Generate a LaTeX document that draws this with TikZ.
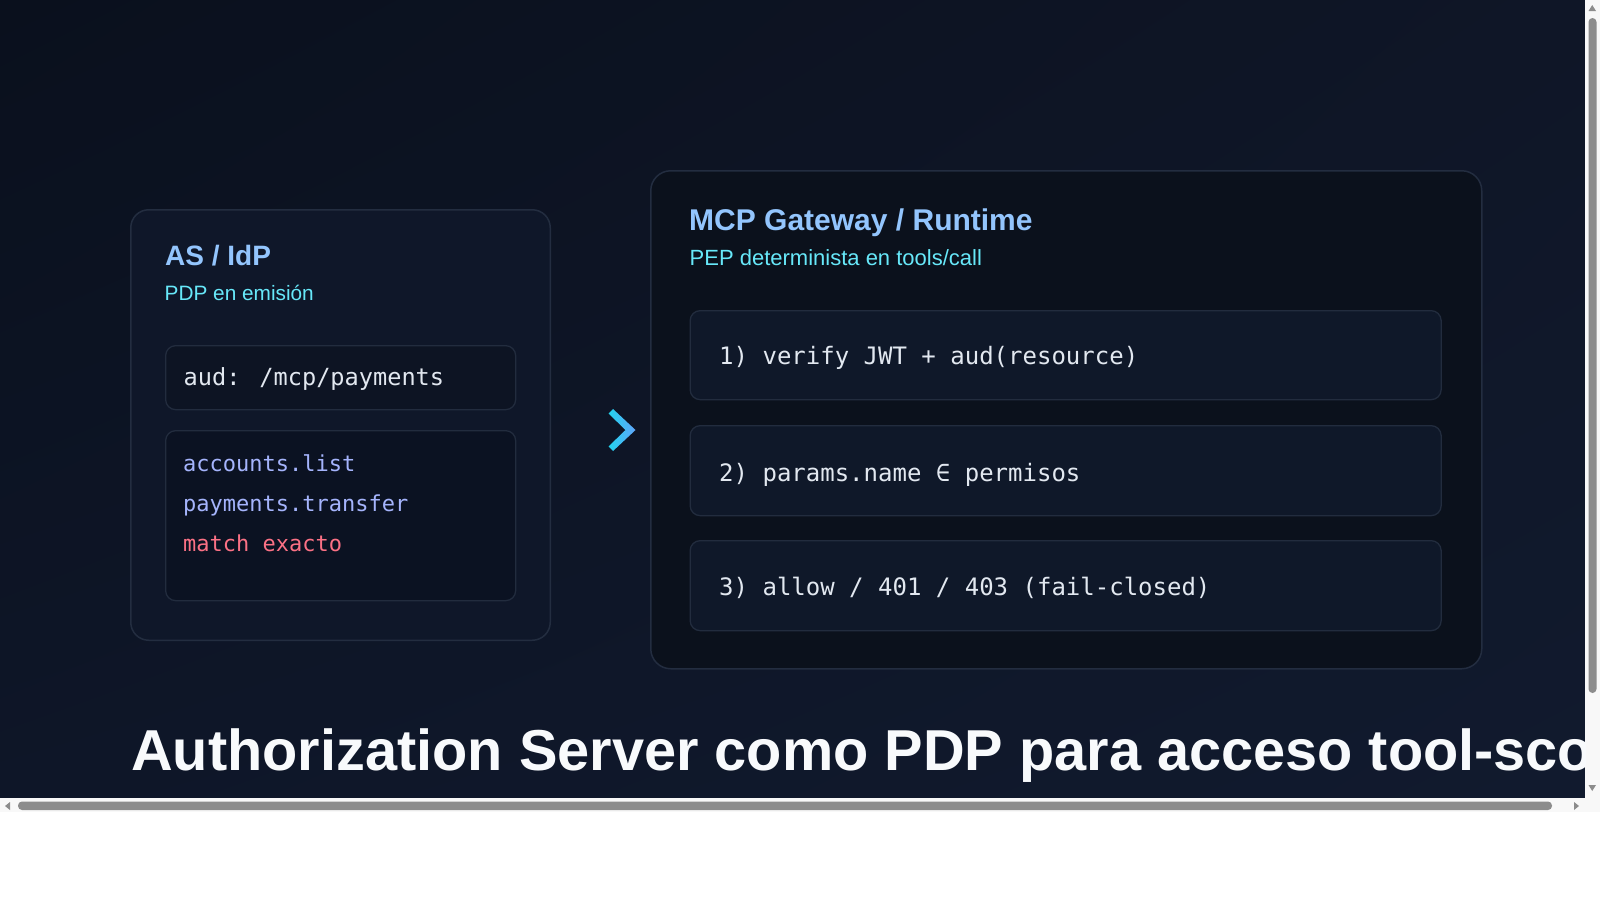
\documentclass[tikz,border=0pt]{standalone}
\usepackage{fontspec}
\usetikzlibrary{shadings}
\setmainfont{Liberation Sans}
\newfontfamily\monofont{DejaVu Sans Mono}
\definecolor{bgUL}{HTML}{0A101D}
\definecolor{bgUR}{HTML}{0F1627}
\definecolor{bgLL}{HTML}{0E1628}
\definecolor{bgLR}{HTML}{111A2E}
\definecolor{cardL}{HTML}{0F1729}
\definecolor{cardR}{HTML}{0B111C}
\definecolor{cardline}{HTML}{232D40}
\definecolor{boxline}{HTML}{222C3E}
\definecolor{audfill}{HTML}{0D1423}
\definecolor{toolfill}{HTML}{0B1222}
\definecolor{stepfill}{HTML}{0F1829}
\definecolor{headblue}{HTML}{93C5FD}
\definecolor{subcyan}{HTML}{67E8F9}
\definecolor{codewhite}{HTML}{E2E8F0}
\definecolor{toolblue}{HTML}{A5B4FC}
\definecolor{toolred}{HTML}{FB7185}
\definecolor{titlewhite}{HTML}{F8FAFC}
\definecolor{chevA}{HTML}{22D3EE}
\definecolor{chevB}{HTML}{60A5FA}
\definecolor{track}{HTML}{F8F8F8}
\definecolor{thumb}{HTML}{8C8C8C}
\begin{document}
\begin{tikzpicture}[x=1pt,y=-1pt,
  card/.style={draw=cardline, line width=1.5pt, rounded corners=18pt, anchor=north west, inner sep=0pt},
  box/.style={draw=boxline, line width=1.3pt, rounded corners=10pt, anchor=north west, inner sep=0pt},
  head/.style={anchor=base west, inner sep=0pt, text=headblue, font=\fontsize{30}{34}\selectfont\bfseries},
  sub/.style={anchor=base west, inner sep=0pt, text=subcyan, font=\fontsize{22}{26}\selectfont},
  code/.style={anchor=base west, inner sep=0pt, text=codewhite, font=\monofont\fontsize{24}{28}\selectfont},
  tool/.style={anchor=base west, inner sep=0pt, font=\monofont\fontsize{22}{26}\selectfont},
  bigtitle/.style={anchor=base west, inner sep=0pt, text=titlewhite, font=\fontsize{57.7}{64}\selectfont\bfseries},
]
\useasboundingbox (0,0) rectangle (1600,900);
% page background and browser chrome
\fill[white] (0,0) rectangle (1600,900);
\shade[upper left=bgUL, upper right=bgUR, lower left=bgLL, lower right=bgLR] (0,0) rectangle (1585,797.5);
\fill[track] (1585,0) rectangle (1600,797.5);
\fill[track] (0,797.5) rectangle (1600,812);
\fill[thumb, rounded corners=4pt] (1588.5,18) rectangle (1596.5,693);
\fill[thumb, rounded corners=4pt] (18,801.5) rectangle (1552,810);
\fill[thumb] (1588.5,11) -- (1596,11) -- (1592.2,5) -- cycle;
\fill[thumb] (1588.5,785) -- (1596,785) -- (1592.2,791) -- cycle;
\fill[thumb] (10,802) -- (10,810) -- (5,806) -- cycle;
\fill[thumb] (1574,802) -- (1574,810) -- (1579,806) -- cycle;

% left card
\node[card, fill=cardL, minimum width=419.5pt, minimum height=430.5pt] (asidp) at (130,209) {};
\node[head, font=\fontsize{28}{32}\selectfont\bfseries] (astitle) at (165,265) {AS / IdP};
\node[sub, font=\fontsize{20.8}{25}\selectfont] (assub) at (164.5,300) {PDP en emisión};
\node[box, fill=audfill, minimum width=350pt, minimum height=64pt] (audbox) at (165,345) {};
\node[code, font=\monofont\fontsize{23.6}{28}\selectfont] (audtxt) at (183.5,385) {aud: /mcp/payments};
\node[box, fill=toolfill, minimum width=350pt, minimum height=170pt] (toolbox) at (165,430) {};
\node[tool, text=toolblue] (t1) at (183,471.7) {accounts.list};
\node[tool, text=toolblue] (t2) at (183,511.7) {payments.transfer};
\node[tool, text=toolred] (t3) at (183,551.7) {match exacto};

% chevron
\shade[left color=chevA, right color=chevB]
  (613,409) -- (635.5,430) -- (613,451) -- (608.5,446.5) -- (625.5,430) -- (608.5,413.5) -- cycle;

% right card
\node[card, fill=cardR, minimum width=831pt, minimum height=498pt, rounded corners=20pt] (gw) at (650,170) {};
\node[head] (gwtitle) at (689,230) {MCP Gateway / Runtime};
\node[sub] (gwsub) at (689.5,265) {PEP determinista en tools/call};
\node[box, fill=stepfill, minimum width=751pt, minimum height=89pt] (s1) at (689.5,310) {};
\node[code] (s1t) at (719,364) {1) verify JWT + aud(resource)};
\node[box, fill=stepfill, minimum width=751pt, minimum height=90pt] (s2) at (689.5,425) {};
\node[code] (s2t) at (719,481.7) {2) params.name ∈ permisos};
\node[box, fill=stepfill, minimum width=751pt, minimum height=90pt] (s3) at (689.5,540) {};
\node[code] (s3t) at (719,595) {3) allow / 401 / 403 (fail-closed)};

% main title, clipped by the viewport
\begin{scope}
\clip (0,0) rectangle (1585,797.5);
\node[bigtitle] (title) at (131,770) {Authorization Server como PDP para acceso tool-scoped};
\end{scope}
\end{tikzpicture}
\end{document}
